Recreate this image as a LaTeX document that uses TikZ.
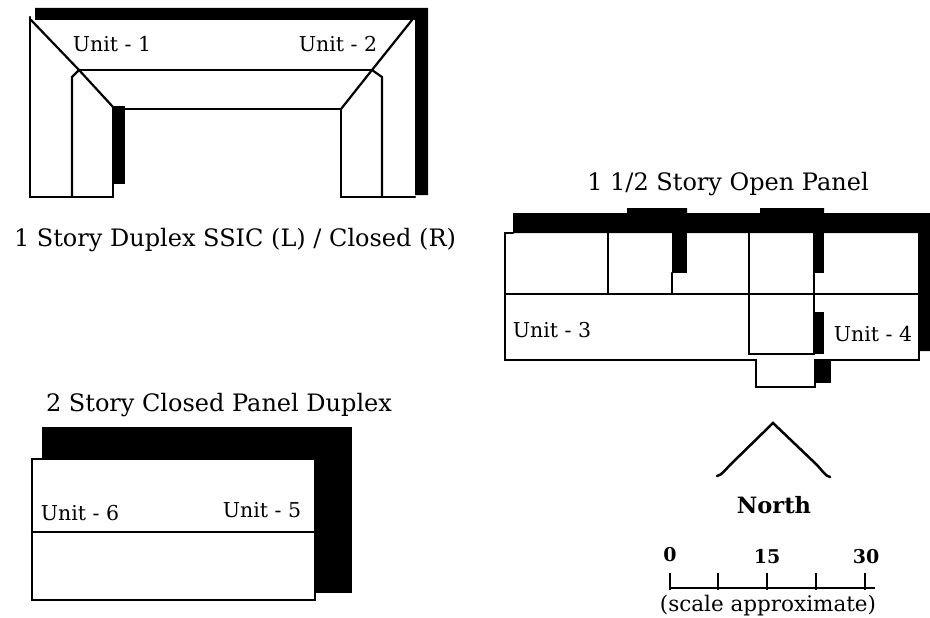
\documentclass[tikz,border=0pt]{standalone}
\usepackage{fontspec}
\setmainfont{DejaVu Serif}
\tikzset{
	every node/.style={inner sep=0pt, text=black}
}
\tikzset{
	wall/.style={line width=2.2pt, line join=miter, line cap=round},
	shade/.style={fill=black, draw=none},
	title/.style={font=\fontsize{24}{26}\selectfont},
	unit/.style={font=\fontsize{20.5}{22}\selectfont},
	small/.style={font=\fontsize{19}{21}\bfseries\selectfont}
}

\begin{document}
\begin{tikzpicture}[x=1pt, y=-1pt]
	\useasboundingbox (0,0) rectangle (930,618);
	\fill [white] (0,0) rectangle (930,618);

	\fill [shade] (35,8) -- (428,8) -- (428,195) -- (415,195) -- (415,20) -- (35,20) -- cycle;
	\fill [shade] (113,106) rectangle (125,184);
	\draw [wall] (30,17) -- (30,197) -- (113,197) -- (113,107);
	\draw [wall] (341,197) -- (415,197);
	\draw [wall] (341,197) -- (341,109) -- (125,109);
	\draw [wall] (31,20) -- (79,70) -- (113,107);
	\draw [wall] (412,20) -- (372,70) -- (341,109);
	\draw [wall] (79,70) -- (372,70);
	\draw [wall] (72,197) -- (72,77) -- (79,70);
	\draw [wall] (382,197) -- (382,77) -- (372,70);
	\node [unit, anchor=base] (unit1) at (112,52) {Unit - 1};
	\node [unit, anchor=base] (unit2) at (338,52) {Unit - 2};
	\node [title] (duplex) at (235,240) {1 Story Duplex SSIC (L) / Closed (R)};

	\node [title] (open) at (728,184) {1 1/2 Story Open Panel};
	\fill [shade] (513,213) -- (627,213) -- (627,208) -- (687,208) -- (687,213) -- (760,213) -- (760,208)
		-- (824,208) -- (824,213) -- (930,213) -- (930,351) -- (919,351) -- (919,233) -- (513,233) -- cycle;
	\fill [shade] (672,233) rectangle (687,273);
	\fill [shade] (813,233) rectangle (824,273);
	\fill [shade] (814,312) rectangle (824,354);
	\fill [shade] (815,360) rectangle (831,383);
	\draw [wall] (505,233) -- (505,360) -- (756,360) -- (756,387) -- (815,387) -- (815,360) -- (919,360) -- (919,233);
	\draw [wall] (505,233) -- (513,233);
	\draw [wall] (505,294) -- (919,294);
	\draw [wall] (608,233) -- (608,294);
	\draw [wall] (672,273) -- (672,294);
	\draw [wall] (749,233) -- (749,354) -- (814,354) -- (814,273);
	\node [unit, anchor=base] (unit3) at (552,337) {Unit - 3};
	\node [unit, anchor=base] (unit4) at (873,341) {Unit - 4};

	\node [title] (closed) at (219,405) {2 Story Closed Panel Duplex};
	\fill [shade] (42,427) rectangle (352,460);
	\fill [shade] (315,427) rectangle (352,593);
	\draw [wall] (32,459) rectangle (315,600);
	\draw [wall] (32,532) -- (315,532);
	\node [unit, anchor=base] (unit6) at (80,520) {Unit - 6};
	\node [unit, anchor=base] (unit5) at (262,517) {Unit - 5};

	\coordinate (nw) at (717,476);
	\coordinate (apex) at (773,423);
	\coordinate (ne) at (830,477);
	\draw [line width=2.5pt, line cap=round] (nw) .. controls (722,475) and (725,470) .. (730,465) -- (apex)
		-- (817,465) .. controls (822,470) and (825,476) .. (ne);
	\node [font=\fontsize{22.5}{24}\bfseries\selectfont] (north) at (774,505) {North};

	\node [small] (zero) at (670,555) {0};
	\node [small] (fifteen) at (767,557) {15};
	\node [small] (thirty) at (866,557) {30};
	\coordinate (start) at (670,588);
	\coordinate (stop) at (875,588);
	\draw [line width=1.6pt] (start) -- (stop);
	\foreach \x in {670,718,767,816,865}
		\draw [line width=1.8pt] (\x,573) -- (\x,590);
	\node [font=\fontsize{21.5}{23}\selectfont] (approx) at (768,606) {(scale approximate)};
\end{tikzpicture}
\end{document}
